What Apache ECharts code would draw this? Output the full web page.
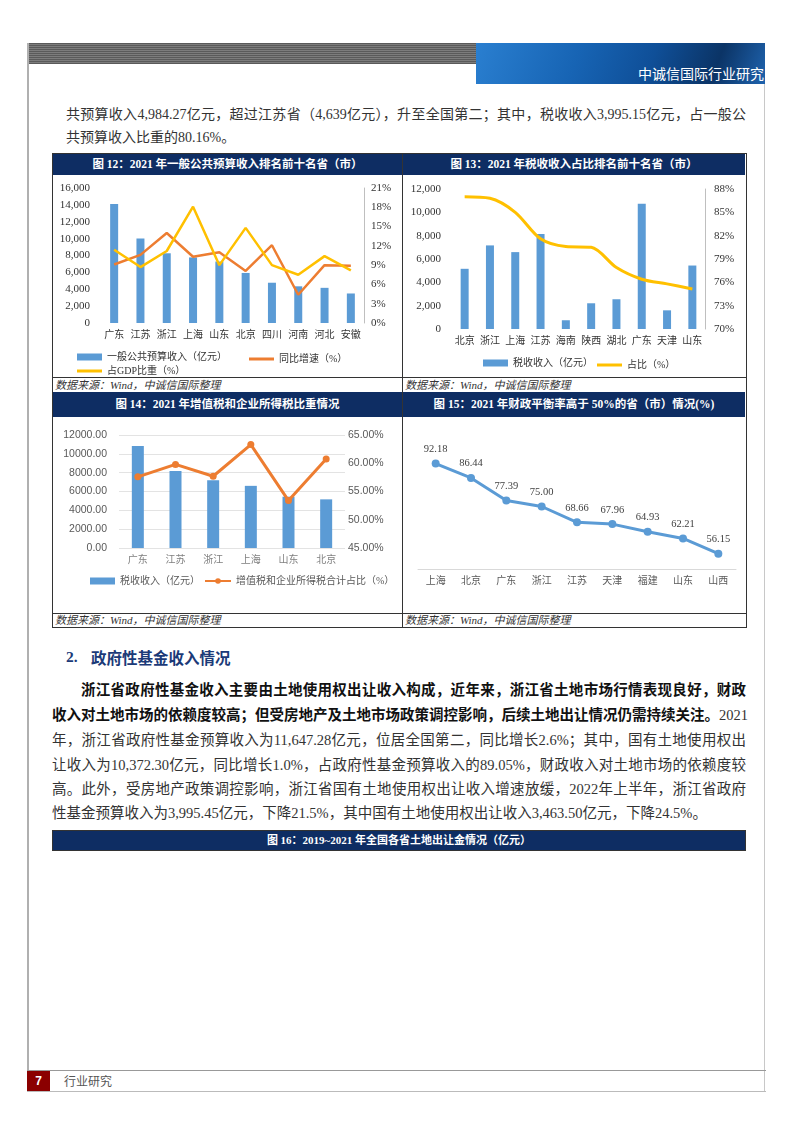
<!DOCTYPE html>
<html><head><meta charset="utf-8">
<script src="https://cdn.jsdelivr.net/npm/echarts@6/dist/echarts.min.js"></script>
<style>
html,body{margin:0;padding:0;}
body{width:802px;height:1133px;background:#fff;position:relative;overflow:hidden;font-family:"Liberation Serif","Noto Sans CJK SC",serif;color:#222;}
.a{position:absolute;}
.line{position:absolute;white-space:nowrap;overflow:visible;text-align:justify;text-align-last:justify;}
.last{text-align-last:left;}
.tb{position:absolute;background:#0E2D63;color:#fff;font-weight:bold;text-align:center;font-size:11.5px;}
.src{position:absolute;font-style:italic;font-size:11px;color:#333;font-family:"Liberation Serif","Noto Sans CJK SC";}
.chart{position:absolute;}
</style></head><body>

<!-- header -->
<div class="a" style="left:27px;top:43px;width:449px;height:21px;background:repeating-linear-gradient(to bottom,#5a5a5a 0,#5a5a5a 1px,#7c7c7c 1px,#7c7c7c 2px);"></div>
<div class="a" style="left:476px;top:43px;width:289px;height:41px;background:linear-gradient(110deg,#2a7fd0 0%,#1764b4 35%,#0f4f98 60%,#0b3466 82%,#1f63ae 100%);"></div>
<div class="a" style="left:476px;top:63px;width:288px;text-align:right;color:#fff;font-family:'Noto Sans CJK SC';font-size:14px;line-height:20px;">中诚信国际行业研究</div>
<div class="a" style="left:27px;top:43px;width:2px;height:1048px;background:#b0b0b0;"></div>
<div class="a" style="left:764px;top:84px;width:1px;height:1007px;background:#c8c8c8;"></div>

<!-- top paragraph -->
<div class="line" style="left:66px;top:104px;width:680px;font-size:14px;line-height:22px;color:#333;">共预算收入4,984.27亿元，超过江苏省（4,639亿元），升至全国第二；其中，税收收入3,995.15亿元，占一般公</div>
<div class="line last" style="left:66px;top:127px;width:680px;font-size:14px;line-height:22px;color:#333;">共预算收入比重的80.16%。</div>

<!-- panel frame -->
<div class="a" style="left:52px;top:153px;width:693px;height:473px;border:1px solid #333;"></div>
<div class="a" style="left:402px;top:153px;width:1px;height:474px;background:#333;"></div>
<div class="a" style="left:52px;top:377px;width:694px;height:1px;background:#333;"></div>
<div class="a" style="left:52px;top:613px;width:694px;height:1px;background:#333;"></div>

<div class="tb" style="left:53px;top:154px;width:349px;height:21px;line-height:21px;">图 12：2021 年一般公共预算收入排名前十名省（市）</div>
<div class="tb" style="left:403px;top:154px;width:342px;height:21px;line-height:21px;">图 13：2021 年税收收入占比排名前十名省（市）</div>
<div class="tb" style="left:53px;top:392px;width:349px;height:25px;line-height:25px;">图 14：2021 年增值税和企业所得税比重情况</div>
<div class="tb" style="left:403px;top:392px;width:342px;height:25px;line-height:25px;">图 15：2021 年财政平衡率高于 50%的省（市）情况(%)</div>

<div class="src" style="left:55px;top:378px;line-height:14px;">数据来源：Wind，中诚信国际整理</div>
<div class="src" style="left:405px;top:378px;line-height:14px;">数据来源：Wind，中诚信国际整理</div>
<div class="src" style="left:55px;top:614px;line-height:13px;">数据来源：Wind，中诚信国际整理</div>
<div class="src" style="left:405px;top:614px;line-height:13px;">数据来源：Wind，中诚信国际整理</div>

<div id="c12" class="chart" style="left:53px;top:176px;width:349px;height:201px;"></div>
<div id="c13" class="chart" style="left:403px;top:176px;width:342px;height:201px;"></div>
<div id="c14" class="chart" style="left:53px;top:417px;width:349px;height:196px;"></div>
<div id="c15" class="chart" style="left:403px;top:417px;width:342px;height:196px;"></div>

<!-- section 2 -->
<div class="a" style="left:66px;top:647px;font-size:15.5px;line-height:20px;font-weight:bold;color:#1B3A78;font-family:'Liberation Serif','Noto Sans CJK SC';">2.</div>
<div class="a" style="left:91px;top:647px;font-size:15.5px;line-height:20px;font-weight:bold;color:#1B3A78;font-family:'Noto Sans CJK SC';">政府性基金收入情况</div>

<div class="line" style="left:81px;top:678px;width:665px;font-size:14.5px;line-height:24px;font-weight:bold;color:#111;">浙江省政府性基金收入主要由土地使用权出让收入构成，近年来，浙江省土地市场行情表现良好，财政</div>
<div class="line" style="left:52px;top:703px;width:694px;font-size:14.5px;line-height:24px;color:#333;"><b style="color:#111;">收入对土地市场的依赖度较高；但受房地产及土地市场政策调控影响，后续土地出让情况仍需持续关注。</b>2021</div>
<div class="line" style="left:52px;top:728px;width:694px;font-size:14.5px;line-height:24px;color:#333;">年，浙江省政府性基金预算收入为11,647.28亿元，位居全国第二，同比增长2.6%；其中，国有土地使用权出</div>
<div class="line" style="left:52px;top:753px;width:694px;font-size:14.5px;line-height:24px;color:#333;">让收入为10,372.30亿元，同比增长1.0%，占政府性基金预算收入的89.05%，财政收入对土地市场的依赖度较</div>
<div class="line" style="left:52px;top:777px;width:694px;font-size:14.5px;line-height:24px;color:#333;">高。此外，受房地产政策调控影响，浙江省国有土地使用权出让收入增速放缓，2022年上半年，浙江省政府</div>
<div class="line last" style="left:52px;top:801px;width:694px;font-size:14.5px;line-height:24px;color:#333;">性基金预算收入为3,995.45亿元，下降21.5%，其中国有土地使用权出让收入3,463.50亿元，下降24.5%。</div>

<div class="tb" style="left:52px;top:830px;width:692px;height:19px;line-height:19px;border:1px solid #333;font-size:11px;">图 16：2019~2021 年全国各省土地出让金情况（亿元）</div>

<!-- footer -->
<div class="a" style="left:27px;top:1070px;width:739px;height:1px;background:#999;"></div>
<div class="a" style="left:27px;top:1091px;width:739px;height:1px;background:#bbb;"></div>
<div class="a" style="left:27px;top:1071px;width:23px;height:20px;background:#8B0000;color:#fff;font-family:'Liberation Sans';font-weight:bold;font-size:12px;line-height:20px;text-align:center;">7</div>
<div class="a" style="left:64px;top:1072px;font-family:'Noto Sans CJK SC';font-size:12px;line-height:18px;color:#555;">行业研究</div>

<script>
// ---------- data ----------
const cats12 = ['广东','江苏','浙江','上海','山东','北京','四川','河南','河北','安徽'];
const revenue12 = [14103, 10015, 8263, 7772, 7284, 5932, 4773, 4347, 4168, 3498];
const yoy12 = [9.1, 10.6, 14.0, 10.3, 11.0, 8.1, 12.1, 4.4, 9.0, 8.9];
const gdpShare12 = [11.4, 8.7, 11.2, 18.1, 9.0, 14.8, 9.0, 7.5, 10.4, 8.2];
const names12 = ['一般公共预算收入（亿元）','同比增速（%）','占GDP比重（%）'];

const cats13 = ['北京','浙江','上海','江苏','海南','陕西','湖北','广东','天津','山东'];
const tax13 = [5160, 7165, 6590, 8140, 750, 2205, 2550, 10745, 1600, 5440];
const ratio13 = [87.0, 86.8, 85.0, 81.6, 80.6, 80.5, 77.9, 76.4, 75.8, 75.15];
const names13 = ['税收收入（亿元）','占比（%）'];
const ratioBase13 = 70;

const cats14 = ['广东','江苏','浙江','上海','山东','北京'];
const tax14 = [10830, 8180, 7186, 6600, 5450, 5165];
const share14 = [57.6, 59.8, 57.7, 63.3, 53.4, 60.75];
const names14 = ['税收收入（亿元）','增值税和企业所得税合计占比（%）'];

const cats15 = ['上海','北京','广东','浙江','江苏','天津','福建','山东','山西'];
const balance15 = [92.18, 86.44, 77.39, 75.00, 68.66, 67.96, 64.93, 62.21, 56.15];

// ---------- styles ----------
const SERIF = '"Liberation Serif", "Noto Sans CJK SC", serif';
const SANS = '"Liberation Sans", "Noto Sans CJK SC", sans-serif';
const BLUE = '#5B9BD5', ORANGE = '#ED7D31', YELLOW = '#FFC000';
const LEG_TEXT = {fontSize:10,color:'#333',fontFamily:SERIF};

function mk(id){ return echarts.init(document.getElementById(id), null, {renderer:'canvas'}); }

// ---------- chart 12 ----------
mk('c12').setOption({
  animation:false,
  grid:{left:48,right:38,top:12,bottom:54},
  legend:[
    {data:[{name:names12[0],icon:'rect'}],left:19,top:171,itemWidth:25,itemHeight:7,textStyle:LEG_TEXT},
    {data:[{name:names12[1],icon:'rect'}],left:191,top:173,itemWidth:25,itemHeight:3,textStyle:LEG_TEXT},
    {data:[{name:names12[2],icon:'rect'}],left:19,top:185,itemWidth:25,itemHeight:3,textStyle:LEG_TEXT}
  ],
  xAxis:{type:'category',data:cats12,axisLine:{show:false},axisTick:{show:false},
    axisLabel:{fontSize:10,color:'#333',margin:7,fontFamily:SERIF,interval:0}},
  yAxis:[
    {type:'value',min:0,max:16000,interval:2000,splitLine:{show:false},axisLine:{show:false},axisTick:{show:false},
      axisLabel:{fontSize:11,color:'#333',fontFamily:SERIF,margin:11,formatter:v=>v.toLocaleString('en-US')}},
    {type:'value',min:0,max:21,interval:3,position:'right',splitLine:{show:false},
      axisLine:{show:true,lineStyle:{color:'#BFBFBF',width:1}},axisTick:{show:false},
      axisLabel:{fontSize:11,color:'#333',fontFamily:SERIF,margin:7,formatter:'{value}%'}}
  ],
  series:[
    {name:names12[0],type:'bar',data:revenue12,barWidth:8,itemStyle:{color:BLUE}},
    {name:names12[1],type:'line',yAxisIndex:1,data:yoy12,symbol:'none',lineStyle:{width:2.5,color:ORANGE},itemStyle:{color:ORANGE}},
    {name:names12[2],type:'line',yAxisIndex:1,data:gdpShare12,symbol:'none',lineStyle:{width:2.5,color:YELLOW},itemStyle:{color:YELLOW}}
  ]
});

// ---------- chart 13 ----------
mk('c13').setOption({
  animation:false,
  grid:{left:49,right:40,top:13,bottom:48},
  legend:[
    {data:[{name:names13[0],icon:'rect'}],left:75,top:177,itemWidth:25,itemHeight:7,textStyle:LEG_TEXT},
    {data:[{name:names13[1],icon:'rect'}],left:189,top:179,itemWidth:25,itemHeight:3,textStyle:LEG_TEXT}
  ],
  xAxis:{type:'category',data:cats13,axisLine:{show:false},axisTick:{show:false},
    axisLabel:{fontSize:10,color:'#333',margin:7,fontFamily:SERIF,interval:0}},
  yAxis:[
    {type:'value',min:0,max:12000,interval:2000,splitLine:{show:false},axisLine:{show:false},axisTick:{show:false},
      axisLabel:{fontSize:11,color:'#333',fontFamily:SERIF,margin:11,formatter:v=>v.toLocaleString('en-US')}},
    {type:'value',min:0,max:18,interval:3,position:'right',splitLine:{show:false},
      axisLine:{show:true,lineStyle:{color:'#BFBFBF',width:1}},axisTick:{show:false},
      axisLabel:{fontSize:11,color:'#333',fontFamily:SERIF,margin:9,formatter:v=>(v+ratioBase13)+'%'}}
  ],
  series:[
    {name:names13[0],type:'bar',data:tax13,barWidth:8,itemStyle:{color:BLUE}},
    {name:names13[1],type:'line',yAxisIndex:1,data:ratio13.map(v=>v-ratioBase13),smooth:0.3,symbol:'none',
      lineStyle:{width:3,color:YELLOW},itemStyle:{color:YELLOW}}
  ]
});

// ---------- chart 14 ----------
mk('c14').setOption({
  animation:false,
  grid:{left:66,right:57,top:18,bottom:65},
  legend:[
    {data:[{name:names14[0],icon:'rect'}],left:32,top:154,itemWidth:25,itemHeight:7,textStyle:{fontSize:10,color:'#595959',fontFamily:SERIF}},
    {data:[names14[1]],left:146,top:154,itemWidth:26,itemHeight:7,textStyle:{fontSize:10,color:'#595959',fontFamily:SERIF}}
  ],
  xAxis:{type:'category',data:cats14,axisLine:{show:false},axisTick:{show:false},
    axisLabel:{fontSize:10,color:'#7F7F7F',margin:7,fontFamily:SERIF,interval:0}},
  yAxis:[
    {type:'value',min:0,max:12000,interval:2000,splitLine:{show:true,lineStyle:{color:'#E3E3E3',width:1}},
      axisLine:{show:false},axisTick:{show:false},
      axisLabel:{fontSize:10.5,color:'#595959',fontFamily:SANS,margin:12,formatter:v=>v.toFixed(2)}},
    {type:'value',min:45,max:65,interval:5,position:'right',splitLine:{show:false},axisLine:{show:false},axisTick:{show:false},
      axisLabel:{fontSize:10.5,color:'#595959',fontFamily:SANS,margin:3,formatter:v=>v.toFixed(2)+'%'}}
  ],
  series:[
    {name:names14[0],type:'bar',data:tax14,barWidth:12,itemStyle:{color:BLUE}},
    {name:names14[1],type:'line',yAxisIndex:1,data:share14,symbol:'circle',symbolSize:7,
      lineStyle:{width:3,color:ORANGE},itemStyle:{color:ORANGE}}
  ]
});

// ---------- chart 15 ----------
mk('c15').setOption({
  animation:false,
  grid:{left:15,right:9,top:27,bottom:44},
  xAxis:{type:'category',data:cats15,axisLine:{show:true,lineStyle:{color:'#D9D9D9'}},axisTick:{show:false},
    axisLabel:{fontSize:10,color:'#595959',margin:7,fontFamily:SERIF,interval:0}},
  yAxis:{type:'value',min:50,max:100,show:false,splitLine:{show:false}},
  series:[
    {type:'line',data:balance15,symbol:'circle',symbolSize:8,lineStyle:{width:3,color:BLUE},itemStyle:{color:BLUE},
      label:{show:true,position:'top',distance:5,fontSize:10.5,color:'#404040',fontFamily:SERIF,formatter:p=>p.value.toFixed(2)}}
  ]
});
</script>
</body></html>
